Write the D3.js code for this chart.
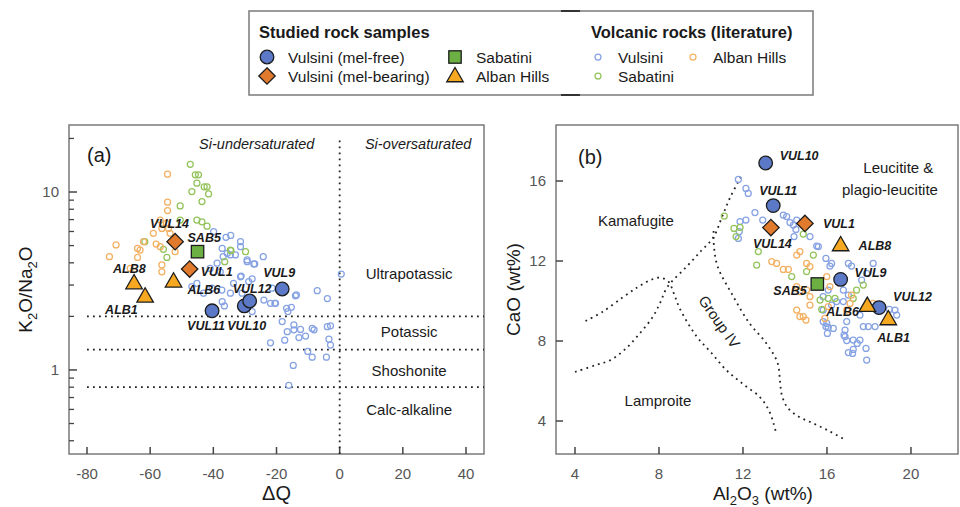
<!DOCTYPE html>
<html><head><meta charset="utf-8">
<script src="https://cdn.jsdelivr.net/npm/d3@7/dist/d3.min.js"></script>
<style>body{margin:0;background:#fff;} svg{display:block;font-family:"Liberation Sans",Arial,Helvetica,sans-serif;}</style>
</head><body><svg id="c" width="960" height="507"></svg>
<script>
// ---------------- DATA ----------------
const sampleIds   = ["VUL14","SAB5","VUL1","ALB8","ALB6","ALB1","VUL11","VUL10","VUL12","VUL9"];
const sampleGroup = ["melb","sab","melb","alb","alb","alb","melf","melf","melf","melf"];
const sampleDQ    = [-52.1,-45.0,-47.5,-65.1,-52.6,-61.6,-40.4,-30.2,-28.5,-18.2];
const sampleK2ONa2O = [5.26,4.62,3.69,3.04,3.11,2.56,2.15,2.29,2.44,2.85];
const sampleAl2O3 = [13.33,15.54,14.95,16.65,17.92,18.92,13.44,13.08,18.48,16.65];
const sampleCaO   = [13.67,10.85,13.88,12.75,9.72,9.05,14.77,16.9,9.67,11.08];

// literature, panel (a): [ΔQ, K2O/Na2O]
const litVulsiniA = [[-39.9,5.98],[-36.0,5.56],[-37.2,4.82],[-35.6,4.52],[-36.9,4.33],[-33.0,4.43],[-31.4,4.93],[-29.3,4.15],[-26.9,3.94],[-38.8,3.98],[-41.0,3.72],[-37.8,3.56],[-31.4,3.34],[-33.6,3.07],[-28.8,3.14],[-37.3,2.81],[-45.2,3.07],[-46.8,2.94],[-43.1,2.70],[-40.4,2.88],[-34.6,2.70],[-37.2,2.42],[-30.9,2.70],[-34.5,5.7],[-31.4,5.26],[-34.6,4.43],[-27.2,3.94],[-24.2,4.33],[-29.3,4.06],[-27.7,3.25],[-31.2,3.37],[-21.4,2.88],[-24.0,2.47],[-21.9,2.37],[-20.3,2.37],[-14.0,2.61],[-7.1,2.79],[-3.9,2.52],[-16.4,2.13],[0.5,3.46],[-36.5,2.29],[-27.7,2.13],[-18.2,1.87],[-14.5,1.79],[-14.5,1.68],[-12.4,1.69],[-16.6,1.64],[-17.4,1.47],[-12.9,1.52],[-10.8,1.55],[-8.7,1.71],[-8.1,1.68],[-3.9,1.75],[-2.9,1.77],[-21.9,1.42],[-10.1,1.27],[-8.7,1.18],[-4.2,1.18],[-3.4,1.49],[-2.9,1.38],[-14.7,1.06],[-16.1,0.82],[-13.7,2.64],[-20.5,2.37],[-16.8,2.22],[-15.3,2.25]];
const litSabatiniA = [[-47.3,14.3],[-45.7,12.5],[-44.7,12.5],[-45.2,11.2],[-42.9,10.7],[-42.0,10.7],[-46.8,10.05],[-41.5,9.75],[-43.6,8.83],[-50.5,8.35],[-45.2,6.95],[-50.5,6.95],[-61.7,5.26],[-55.8,4.76],[-54.7,4.29],[-34.4,4.68],[-36.4,4.06],[-42.0,6.43],[-29.8,4.62],[-34.6,4.72],[-43.6,6.8]];
const litAlbanA = [[-54.5,12.6],[-54.5,8.76],[-54.5,7.86],[-56.8,6.95],[-54.9,6.67],[-56.3,6.24],[-54.2,6.24],[-62.1,5.26],[-63.2,4.72],[-70.8,5.04],[-72.9,4.33],[-64.0,4.82],[-64.0,4.29],[-58.1,5.10],[-56.8,4.93],[-66.3,3.72],[-56.3,3.89],[-56.3,3.56],[-59.0,5.86],[-53.7,5.86],[-52.1,4.62]];

// literature, panel (b): [Al2O3, CaO]
const litVulsiniB = [[11.78,16.08],[12.14,15.63],[12.25,15.38],[12.57,14.42],[12.14,14.05],[11.86,13.97],[11.82,13.47],[12.94,14.05],[13.92,14.3],[14.08,14.22],[14.24,13.92],[14.4,13.8],[14.52,13.58],[14.43,13.22],[15.19,13.22],[15.51,12.75],[14.56,14.05],[15.95,12.13],[16.22,11.88],[11.78,13.13],[15.59,12.72],[16.14,11.75],[17.02,11.88],[17.17,11.75],[18.2,11.88],[17.65,11.05],[17.89,11.38],[16.06,10.55],[16.78,10.55],[17.02,10.3],[15.82,10.22],[16.46,9.97],[16.22,9.8],[16.78,9.97],[15.82,9.55],[15.99,8.88],[16.06,8.68],[16.3,8.63],[16.86,8.55],[16.86,8.22],[16.94,8.02],[17.25,8.05],[17.57,8.05],[17.86,7.63],[17.25,7.58],[17.02,7.42],[17.89,7.05],[17.22,7.38],[17.97,8.72],[18.29,8.72],[18.97,9.58],[19.32,9.3],[19.24,9.55],[17.57,9.3],[17.73,8.72],[15.82,8.97],[15.95,8.72],[16.02,8.38],[16.81,8.3],[17.44,7.88],[16.94,8.97]];
const litSabatiniB = [[11.11,14.25],[11.57,13.63],[11.86,13.68],[11.67,13.22],[12.65,11.8],[14.87,13.35],[15.35,12.3],[12.73,12.47],[14.32,11.22],[15.03,11.47],[15.67,10.05],[16.06,10.13],[16.38,10.13],[17.41,10.55],[17.73,10.8],[15.43,10.72],[17.25,10.13],[15.75,9.58]];
const litAlbanB = [[13.37,11.97],[13.6,11.88],[13.92,11.58],[14.16,11.58],[14.56,12.3],[14.71,12.47],[15.03,11.88],[15.19,11.72],[14.56,10.72],[14.71,10.47],[15.03,10.55],[15.19,10.22],[14.56,9.55],[14.71,9.22],[15.0,9.05],[15.99,11.22],[16.14,10.72],[16.06,9.72],[15.9,9.13],[17.17,10.3],[16.94,9.55],[17.1,9.88],[18.2,9.88],[14.87,9.22],[15.19,9.8]];

// field boundaries, panel (b)
const boundary1 = [[4.5,9.0],[5.3,9.45],[6.3,10.2],[7.0,10.7],[7.6,11.05],[8.05,11.17],[8.45,10.97],[8.7,10.4],[9.0,9.6],[9.8,8.22],[10.5,7.4],[11.2,6.55],[12.0,5.85],[12.8,5.2],[13.2,4.6],[13.45,3.9],[13.6,3.3]];
const boundary2 = [[4.0,6.45],[5.0,6.8],[5.7,7.05],[6.4,7.6],[7.1,8.4],[7.7,9.2],[8.05,9.9],[8.4,10.7],[9.3,11.7],[10.0,12.5],[10.6,13.2],[11.0,14.2],[11.4,15.2],[11.9,16.2]];
const boundary3 = [[10.6,13.5],[10.62,12.7],[10.8,11.7],[11.5,10.3],[12.3,8.9],[13.1,7.9],[13.65,6.9],[13.76,6.0],[13.85,5.3],[14.1,4.7],[14.6,4.25],[15.35,3.88],[16.1,3.5],[16.8,3.1]];

// ticks & thresholds
const xTicksA = [-80,-60,-40,-20,0,20,40];
const yMajorA = [1,10];
const yMinorA = [0.4,0.5,0.6,0.7,0.8,0.9,2,3,4,5,6,7,8,9,20];
const kThresholds = [2,1.3,0.8];
const xTicksB = [4,8,12,16,20];
const yTicksB = [4,8,12,16];
const seriesNames = ["Vulsini (mel-free)","Vulsini (mel-bearing)","Sabatini","Alban Hills"];
const litNames = ["Vulsini","Sabatini","Alban Hills"];

// ---------------- STYLE / LAYOUT ----------------
const col = {melf:"#5b79c6", melb:"#e07a2c", sab:"#6cb043", alb:"#f6a821",
  litV:"#86a2e3", litS:"#93c35b", litA:"#f3b062"};
const svg = d3.select("#c");
const FRAME = "#7a7a7a", TXT="#1a1a1a", TICKTXT="#555";
const DOT = "1.8,4.2";

function marker(g, type, x, y, s=1){
  let el;
  if(type==="melf"){ el=g.append("circle").attr("cx",x).attr("cy",y).attr("r",6.8*s); }
  else if(type==="melb"){ const h=8.2*s; el=g.append("path").attr("d",`M${x},${y-h}L${x+h},${y}L${x},${y+h}L${x-h},${y}Z`); }
  else if(type==="sab"){ const a=6.2*s; el=g.append("rect").attr("x",x-a).attr("y",y-a).attr("width",2*a).attr("height",2*a); }
  else { const side=16.5*s, hgt=side*Math.sqrt(3)/2; el=g.append("path").attr("d",`M${x},${y-hgt*2/3}L${x+side/2},${y+hgt/3}L${x-side/2},${y+hgt/3}Z`); }
  el.attr("fill",col[type]).attr("stroke","#1c1c1c").attr("stroke-width",1.3).attr("stroke-linejoin","miter");
}
function lit(g, pts, color, sx, sy){
  g.selectAll(null).data(pts).enter().append("circle")
    .attr("cx",d=>sx(d[0])).attr("cy",d=>sy(d[1])).attr("r",3)
    .attr("fill","none").attr("stroke",color).attr("stroke-width",1.25);
}
const drawOrder = ["melf","melb","sab","alb"];

// ---------------- PANEL A ----------------
const A = {l:69,r:484,t:125,b:454};
const xA = d3.scaleLinear().domain([-85.7,45.7]).range([A.l,A.r]);
const yA = d3.scaleLog().domain([0.337,23.8]).range([A.b,A.t]);
const gA = svg.append("g");
gA.append("rect").attr("x",A.l).attr("y",A.t).attr("width",A.r-A.l).attr("height",A.b-A.t)
  .attr("fill","none").attr("stroke",FRAME).attr("stroke-width",1.5);
xTicksA.forEach(v=>{
  gA.append("line").attr("x1",xA(v)).attr("x2",xA(v)).attr("y1",A.b).attr("y2",A.b-7).attr("stroke","#444").attr("stroke-width",1.5);
  gA.append("text").attr("x",xA(v)).attr("y",A.b+25).attr("text-anchor","middle").attr("font-size",15).attr("fill",TICKTXT).text(v);
});
yMajorA.forEach(v=>{
  gA.append("line").attr("x1",A.l).attr("x2",A.l+8).attr("y1",yA(v)).attr("y2",yA(v)).attr("stroke","#444").attr("stroke-width",1.5);
  gA.append("text").attr("x",A.l-10).attr("y",yA(v)+5).attr("text-anchor","end").attr("font-size",15).attr("fill",TICKTXT).text(v);
});
yMinorA.forEach(v=>{
  gA.append("line").attr("x1",A.l).attr("x2",A.l+5).attr("y1",yA(v)).attr("y2",yA(v)).attr("stroke","#444").attr("stroke-width",1.3);
});
kThresholds.forEach(v=>{
  gA.append("line").attr("x1",xA(-80)).attr("x2",A.r).attr("y1",yA(v)).attr("y2",yA(v))
    .attr("stroke","#222").attr("stroke-width",1.8).attr("stroke-dasharray",DOT);
});
gA.append("line").attr("x1",xA(0)).attr("x2",xA(0)).attr("y1",yA(19.5)).attr("y2",A.b)
  .attr("stroke","#222").attr("stroke-width",1.8).attr("stroke-dasharray",DOT);
const regionA = [["Ultrapotassic",3.46],["Potassic",1.63],["Shoshonite",0.99],["Calc-alkaline",0.596]];
regionA.forEach(r=>{
  gA.append("text").attr("x",xA(22)).attr("y",yA(r[1])+5).attr("text-anchor","middle").attr("font-size",15).attr("fill",TXT).text(r[0]);
});
gA.append("text").attr("x",xA(-44.5)).attr("y",yA(17.5)).attr("font-size",14.5).attr("font-style","italic").attr("fill",TXT).text("Si-undersaturated");
gA.append("text").attr("x",xA(8)).attr("y",yA(17.5)).attr("font-size",14.5).attr("font-style","italic").attr("fill",TXT).text("Si-oversaturated");
gA.append("text").attr("x",87).attr("y",162).attr("font-size",20).attr("fill",TXT).text("(a)");
lit(gA, litVulsiniA, col.litV, xA, yA);
lit(gA, litSabatiniA, col.litS, xA, yA);
lit(gA, litAlbanA, col.litA, xA, yA);
const labelOffA = {VUL14:[-25,-18],SAB5:[-10,-14],VUL1:[11,2],ALB8:[-21,-16],ALB6:[14,7],ALB1:[-40,12],VUL11:[-25,15],VUL10:[-17,20],VUL12:[-17,-13],VUL9:[-19,-17]};
drawOrder.forEach(t=>sampleIds.forEach((id,i)=>{ if(sampleGroup[i]===t) marker(gA,t,xA(sampleDQ[i]),yA(sampleK2ONa2O[i])); }));
sampleIds.forEach((id,i)=>{
  const o=labelOffA[id];
  gA.append("text").attr("x",xA(sampleDQ[i])+o[0]).attr("y",yA(sampleK2ONa2O[i])+o[1]+4.5)
    .attr("font-size",12.5).attr("font-weight","bold").attr("font-style","italic").attr("fill",TXT).text(id);
});
gA.append("text").attr("x",xA(-20)).attr("y",500).attr("text-anchor","middle").attr("font-size",20).attr("fill",TXT).text("ΔQ");
const yt = gA.append("text").attr("transform",`translate(32,${(A.t+A.b)/2}) rotate(-90)`).attr("text-anchor","middle").attr("font-size",19).attr("fill",TXT);
yt.append("tspan").text("K");
yt.append("tspan").attr("font-size",13).attr("dy",5).text("2");
yt.append("tspan").attr("dy",-5).text("O/Na");
yt.append("tspan").attr("font-size",13).attr("dy",5).text("2");
yt.append("tspan").attr("dy",-5).text("O");

// ---------------- PANEL B ----------------
const B = {l:556,r:958,t:125,b:454};
const xB = d3.scaleLinear().domain([3.095,22.24]).range([B.l,B.r]);
const yB = d3.scaleLinear().domain([2.35,18.8]).range([B.b,B.t]);
const gB = svg.append("g");
gB.append("rect").attr("x",B.l).attr("y",B.t).attr("width",B.r-B.l).attr("height",B.b-B.t)
  .attr("fill","none").attr("stroke",FRAME).attr("stroke-width",1.5);
xTicksB.forEach(v=>{
  gB.append("line").attr("x1",xB(v)).attr("x2",xB(v)).attr("y1",B.b).attr("y2",B.b-7).attr("stroke","#444").attr("stroke-width",1.5);
  gB.append("text").attr("x",xB(v)).attr("y",B.b+25).attr("text-anchor","middle").attr("font-size",15).attr("fill",TICKTXT).text(v);
});
yTicksB.forEach(v=>{
  gB.append("line").attr("x1",B.l).attr("x2",B.l+7).attr("y1",yB(v)).attr("y2",yB(v)).attr("stroke","#444").attr("stroke-width",1.5);
  gB.append("text").attr("x",B.l-10).attr("y",yB(v)+5).attr("text-anchor","end").attr("font-size",15).attr("fill",TICKTXT).text(v);
});
const lineB = d3.line().x(d=>xB(d[0])).y(d=>yB(d[1])).curve(d3.curveCatmullRom);
[boundary1,boundary2,boundary3].forEach(b=>{
  gB.append("path").attr("d",lineB(b)).attr("fill","none").attr("stroke","#222").attr("stroke-width",1.8).attr("stroke-dasharray",DOT);
});
gB.append("text").attr("x",578).attr("y",164).attr("font-size",20).attr("fill",TXT).text("(b)");
gB.append("text").attr("x",xB(6.9)).attr("y",yB(14.0)+5).attr("text-anchor","middle").attr("font-size",15).attr("fill",TXT).text("Kamafugite");
gB.append("text").attr("x",xB(7.95)).attr("y",yB(5.0)+5).attr("text-anchor","middle").attr("font-size",15).attr("fill",TXT).text("Lamproite");
gB.append("text").attr("x",xB(19.4)).attr("y",yB(16.65)+5).attr("text-anchor","middle").attr("font-size",15).attr("fill",TXT).text("Leucitite &");
gB.append("text").attr("x",xB(19.0)).attr("y",yB(15.55)+5).attr("text-anchor","middle").attr("font-size",15).attr("fill",TXT).text("plagio-leucitite");
gB.append("text").attr("transform",`translate(${xB(10.86)},${yB(8.95)}) rotate(55)`).attr("text-anchor","middle").attr("dy",5).attr("font-size",15).attr("fill",TXT).text("Group IV");
lit(gB, litVulsiniB, col.litV, xB, yB);
lit(gB, litSabatiniB, col.litS, xB, yB);
lit(gB, litAlbanB, col.litA, xB, yB);
const labelOffB = {VUL10:[14,-8],VUL11:[-14,-15],VUL14:[-18,16],VUL1:[18,0],ALB8:[18,-1],VUL9:[14,-7],SAB5:[-44,6],ALB6:[-41,5],VUL12:[14,-11],ALB1:[-11,17]};
drawOrder.forEach(t=>sampleIds.forEach((id,i)=>{ if(sampleGroup[i]===t) marker(gB,t,xB(sampleAl2O3[i]),yB(sampleCaO[i])); }));
sampleIds.forEach((id,i)=>{
  const o=labelOffB[id];
  gB.append("text").attr("x",xB(sampleAl2O3[i])+o[0]).attr("y",yB(sampleCaO[i])+o[1]+4.5)
    .attr("font-size",12.5).attr("font-weight","bold").attr("font-style","italic").attr("fill",TXT).text(id);
});
const xt = gB.append("text").attr("x",xB(12.95)).attr("y",500).attr("text-anchor","middle").attr("font-size",19).attr("fill",TXT);
xt.append("tspan").text("Al");
xt.append("tspan").attr("font-size",13).attr("dy",5).text("2");
xt.append("tspan").attr("dy",-5).text("O");
xt.append("tspan").attr("font-size",13).attr("dy",5).text("3");
xt.append("tspan").attr("dy",-5).text(" (wt%)");
gB.append("text").attr("transform",`translate(520,${(B.t+B.b)/2}) rotate(-90)`).attr("text-anchor","middle").attr("font-size",19).attr("fill",TXT).text("CaO (wt%)");

// ---------------- LEGEND ----------------
const L = svg.append("g");
L.append("rect").attr("x",249).attr("y",11).attr("width",564).attr("height",84).attr("fill","#fff").attr("stroke",FRAME).attr("stroke-width",1.5);
L.append("line").attr("x1",561).attr("x2",580).attr("y1",11).attr("y2",11).attr("stroke","#333").attr("stroke-width",2);
L.append("line").attr("x1",561).attr("x2",580).attr("y1",95).attr("y2",95).attr("stroke","#333").attr("stroke-width",2);
L.append("text").attr("x",259).attr("y",38).attr("font-size",16.5).attr("font-weight","bold").attr("fill",TXT).text("Studied rock samples");
L.append("text").attr("x",591).attr("y",38).attr("font-size",16.5).attr("font-weight","bold").attr("fill",TXT).text("Volcanic rocks (literature)");
const legPos = [[267,57],[267,76],[455,57],[455,76]];
const legTypes = ["melf","melb","sab","alb"];
seriesNames.forEach((n,i)=>{
  marker(L, legTypes[i], legPos[i][0], legPos[i][1] + (legTypes[i]==="alb"?1:0), 1);
  L.append("text").attr("x",legPos[i][0]+21).attr("y",legPos[i][1]+5.5).attr("font-size",15.5).attr("fill",TXT).text(n);
});
const litPos = [[598,57],[598,76],[693,57]];
const litCols = [col.litV,col.litS,col.litA];
litNames.forEach((n,i)=>{
  L.append("circle").attr("cx",litPos[i][0]).attr("cy",litPos[i][1]).attr("r",3).attr("fill","none").attr("stroke",litCols[i]).attr("stroke-width",1.25);
  L.append("text").attr("x",litPos[i][0]+20).attr("y",litPos[i][1]+5.5).attr("font-size",15.5).attr("fill",TXT).text(n);
});
</script></body></html>
